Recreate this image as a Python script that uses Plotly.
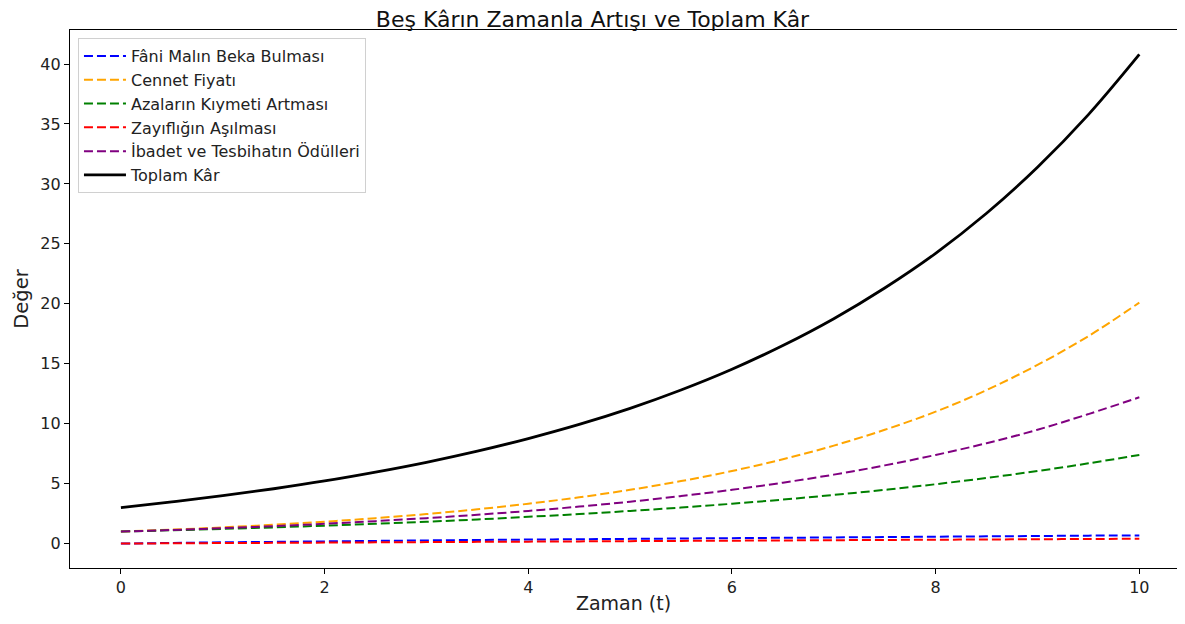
import plotly.graph_objects as go

# Values (half-step samples of t)
t = [0, 0.5, 1, 1.5, 2, 2.5, 3, 3.5, 4, 4.5, 5, 5.5, 6, 6.5, 7, 7.5, 8, 8.5, 9, 9.5, 10]

fani_mal = [0, 0.05, 0.10, 0.14, 0.18, 0.22, 0.26, 0.30, 0.33, 0.36, 0.39,
            0.42, 0.45, 0.48, 0.51, 0.54, 0.57, 0.60, 0.63, 0.66, 0.68]
cennet = [1, 1.16, 1.35, 1.57, 1.82, 2.12, 2.46, 2.86, 3.32, 3.86, 4.48,
          5.21, 6.05, 7.03, 8.17, 9.49, 11.0, 12.8, 14.9, 17.3, 20.1]
azalar = [1, 1.11, 1.22, 1.35, 1.49, 1.65, 1.82, 2.01, 2.23, 2.46, 2.72,
          3.00, 3.32, 3.67, 4.06, 4.48, 4.95, 5.47, 6.05, 6.69, 7.39]
zayiflik = [0, 0.02, 0.04, 0.06, 0.08, 0.10, 0.12, 0.14, 0.16, 0.18, 0.20,
            0.22, 0.24, 0.26, 0.28, 0.30, 0.32, 0.34, 0.36, 0.38, 0.40]
ibadet = [1, 1.13, 1.28, 1.45, 1.65, 1.87, 2.12, 2.40, 2.72, 3.08, 3.49,
          3.96, 4.48, 5.08, 5.75, 6.52, 7.39, 8.37, 9.49, 10.8, 12.2]
toplam = [3, 3.47, 3.99, 4.57, 5.22, 5.96, 6.78, 7.71, 8.76, 9.94, 11.28,
          12.81, 14.54, 16.52, 18.76, 21.32, 24.21, 27.55, 31.39, 35.78, 40.8]

series = [
    ("Fâni Malın Beka Bulması", fani_mal, "blue"),
    ("Cennet Fiyatı", cennet, "orange"),
    ("Azaların Kıymeti Artması", azalar, "green"),
    ("Zayıflığın Aşılması", zayiflik, "red"),
    ("İbadet ve Tesbihatın Ödülleri", ibadet, "purple"),
]

FONT = "DejaVu Sans"

fig = go.Figure()
for name, vals, color in series:
    fig.add_trace(go.Scatter(x=t, y=vals, mode="lines", name=name,
                             line=dict(color=color, width=2, dash="9px,4px", shape="spline")))
fig.add_trace(go.Scatter(x=t, y=toplam, mode="lines", name="Toplam Kâr",
                         line=dict(color="black", width=2.8, shape="spline")))

axis_style = dict(showgrid=False, zeroline=False, showline=True, linecolor="black",
                  linewidth=1.2, ticks="outside", ticklen=5, tickcolor="black",
                  tickfont=dict(family=FONT, size=16, color="#222"))

# the page body adds an 8px margin, so the figure is sized to fit the window exactly;
# the reference's plot runs off the right edge, hence no right spine
fig.update_layout(
    width=1169, height=608,
    margin=dict(l=62, r=0, t=22, b=48),
    paper_bgcolor="white", plot_bgcolor="white",
    font=dict(family=FONT, color="#222"),
    title=dict(text="Beş Kârın Zamanla Artışı ve Toplam Kâr", x=0.5, xanchor="center",
               yref="container", y=0.994, yanchor="top", pad=dict(t=0, b=0),
               font=dict(family=FONT, size=22, color="#111")),
    xaxis=dict(range=[-0.5, 10.37], tickvals=[0, 2, 4, 6, 8, 10], mirror=True,
               title=dict(text="Zaman (t)", font=dict(family=FONT, size=19), standoff=0),
               **axis_style),
    yaxis=dict(range=[-2.04, 42.84], tickvals=[0, 5, 10, 15, 20, 25, 30, 35, 40], mirror=False,
               title=dict(text="Değer", font=dict(family=FONT, size=19.5), standoff=6),
               **axis_style),
    legend=dict(x=0.0072, y=0.985, xanchor="left", yanchor="top", itemwidth=42,
                bgcolor="rgba(255,255,255,0.9)", bordercolor="#d0d0d0", borderwidth=1,
                font=dict(family=FONT, size=16, color="#222"), tracegroupgap=0),
)

fig.write_html("out.html")
